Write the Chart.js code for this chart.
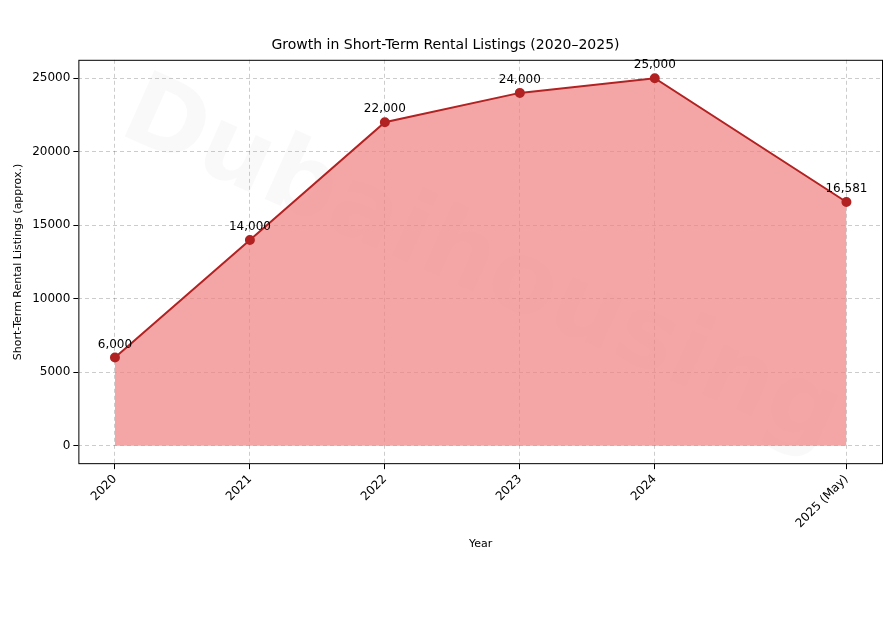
<!DOCTYPE html>
<html><head><meta charset="utf-8">
<script src="https://cdn.jsdelivr.net/npm/chart.js@4"></script>
<style>body{margin:0;background:#fff}#w{width:894px;height:619px}</style>
</head><body><div id="w"><canvas id="c"></canvas></div>
<script>
const years = [2020, 2021, 2022, 2023, 2024, 2025.42];
const yearLabels = ['2020', '2021', '2022', '2023', '2024', '2025 (May)'];
const listings = [6000, 14000, 22000, 24000, 25000, 16581];
const pointLabels = ['6,000', '14,000', '22,000', '24,000', '25,000', '16,581'];

const F = 'DejaVu Sans';
const labelPlugin = {
  id: 'lbl',
  afterDatasetsDraw(ch) {
    const ctx = ch.ctx, m = ch.getDatasetMeta(0), a = ch.chartArea;
    ctx.save(); ctx.font = '12px ' + F; ctx.fillStyle = '#000'; ctx.textAlign = 'center';
    m.data.forEach((p, i) => ctx.fillText(pointLabels[i], p.x, p.y - 10));
    ctx.strokeStyle = '#000'; ctx.lineWidth = 1;
    ctx.strokeRect(a.left + 0.5, a.top + 0.5, a.right - a.left - 1, a.bottom - a.top - 1);
    ctx.restore();
  },
  beforeDatasetsDraw(ch) {
    const ctx = ch.ctx, a = ch.chartArea;
    ctx.save(); ctx.translate((a.left + a.right) / 2, (a.top + a.bottom) / 2 + 5);
    ctx.rotate(0.42); ctx.font = 'bold 100px ' + F; ctx.fillStyle = 'rgba(0,0,0,0.025)';
    ctx.textAlign = 'center'; ctx.textBaseline = 'middle'; ctx.fillText('Dubaihousing', 0, 0);
    ctx.restore();
  }
};
new Chart(document.getElementById('c'), {
  type: 'line',
  data: { datasets: [{
    data: years.map((x, i) => ({ x, y: listings[i] })),
    borderColor: '#b22222', borderWidth: 2, pointRadius: 4, pointBackgroundColor: '#b22222',
    pointBorderColor: '#b22222', fill: 'origin', backgroundColor: 'rgba(240,128,128,0.7)', tension: 0
  }]},
  options: {
    responsive: true, maintainAspectRatio: false, animation: false,
    layout: { padding: { left: 8, right: 11, top: 37, bottom: 64 } },
    plugins: { legend: { display: false }, tooltip: { enabled: false },
      title: { display: true, text: 'Growth in Short-Term Rental Listings (2020–2025)', color: '#000',
        font: { family: F, size: 14, weight: 'normal' }, padding: { top: 0, bottom: 6 } } },
    scales: {
      x: { type: 'linear', min: 2019.729, max: 2025.691,
        afterBuildTicks: s => { s.ticks = years.map(v => ({ value: v })); },
        ticks: { callback: (v) => yearLabels[years.indexOf(v)], maxRotation: 45, minRotation: 45,
          color: '#000', font: { family: F, size: 12 } },
        grid: { color: 'rgba(0,0,0,0.2)', tickColor: '#000', tickLength: 5 },
        border: { display: false, dash: [4, 3] },
        title: { display: true, text: 'Year', color: '#000', font: { family: F, size: 11 } } },
      y: { min: -1250, max: 26250,
        afterBuildTicks: s => { s.ticks = [0, 5000, 10000, 15000, 20000, 25000].map(v => ({ value: v })); },
        ticks: { color: '#000', font: { family: F, size: 12 }, callback: v => String(v) },
        grid: { color: 'rgba(0,0,0,0.2)', tickColor: '#000', tickLength: 5 },
        border: { display: false, dash: [4, 3] },
        title: { display: true, text: 'Short-Term Rental Listings (approx.)', color: '#000', font: { family: F, size: 11 } } }
    }
  },
  plugins: [labelPlugin]
});
</script></body></html>
